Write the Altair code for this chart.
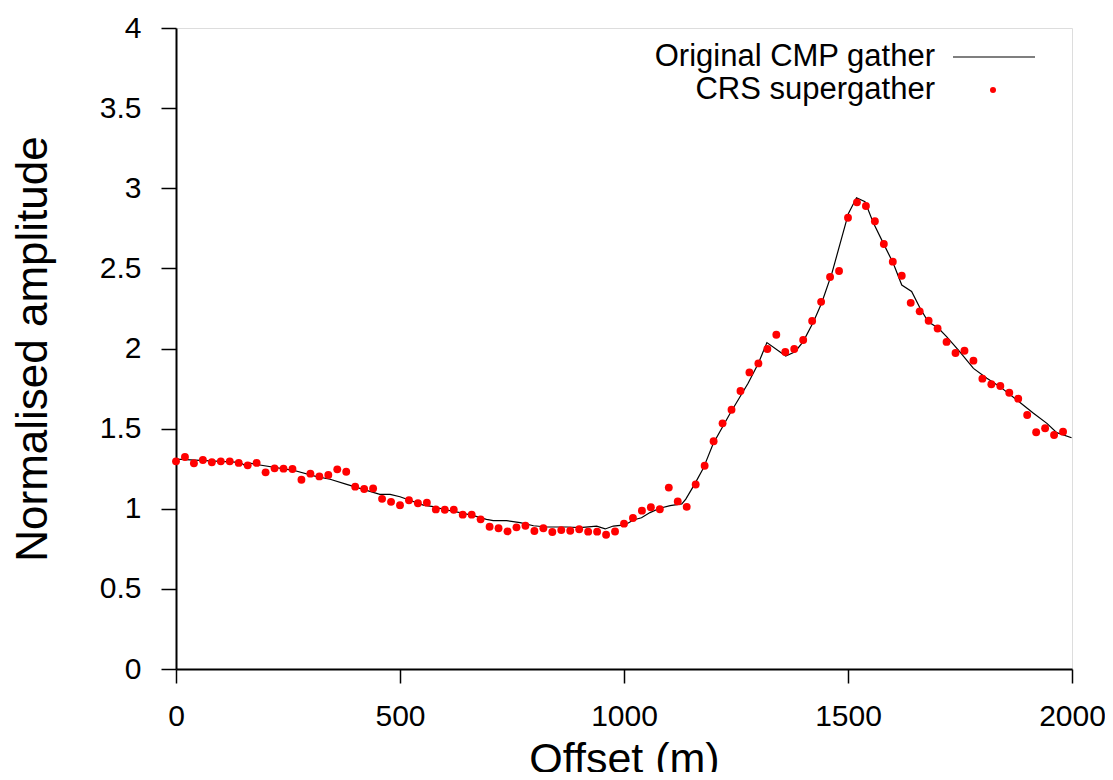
import altair as alt
import pandas as pd

# CRS supergather samples (every 20 m)
crs_offset = list(range(0, 2000, 20))
crs_amp = [1.296, 1.323, 1.284, 1.304, 1.290, 1.296, 1.296, 1.286, 1.271, 1.286,
           1.227, 1.252, 1.250, 1.248, 1.181, 1.219, 1.202, 1.211, 1.246, 1.231,
           1.138, 1.123, 1.127, 1.062, 1.043, 1.022, 1.053, 1.034, 1.038, 0.996,
           0.994, 0.994, 0.963, 0.963, 0.934, 0.888, 0.878, 0.859, 0.884, 0.894,
           0.861, 0.878, 0.855, 0.867, 0.863, 0.872, 0.857, 0.857, 0.838, 0.858,
           0.907, 0.942, 0.988, 1.009, 0.997, 1.132, 1.046, 1.012, 1.151, 1.268,
           1.421, 1.533, 1.618, 1.735, 1.851, 1.907, 1.997, 2.086, 1.978, 1.997,
           2.053, 2.172, 2.291, 2.446, 2.484, 2.816, 2.912, 2.889, 2.794, 2.652,
           2.542, 2.454, 2.285, 2.232, 2.173, 2.125, 2.041, 1.972, 1.986, 1.924,
           1.812, 1.777, 1.766, 1.724, 1.687, 1.585, 1.477, 1.502, 1.460, 1.481]

# Original CMP gather curve
cmp_offset = [0, 65, 143, 154, 165, 187, 262, 314, 344, 381, 455, 478, 500, 552, 574,
              604, 634, 664, 693, 708, 738, 768, 798, 827, 872, 902, 939, 958, 976,
              1002, 1021, 1039, 1058, 1080, 1103, 1129, 1138, 1158, 1177, 1199, 1237,
              1277, 1300, 1319, 1361, 1382, 1400, 1423, 1441, 1464, 1501, 1519, 1538,
              1557, 1579, 1601, 1620, 1642, 1661, 1679, 1702, 1720, 1746, 1780, 1810,
              1839, 1877, 1914, 1944, 1966, 1999]
cmp_amp = [1.31, 1.30, 1.29, 1.27, 1.284, 1.273, 1.24, 1.20, 1.184, 1.152, 1.09, 1.09,
           1.075, 1.023, 1.013, 0.992, 0.976, 0.957, 0.934, 0.926, 0.926, 0.913, 0.894,
           0.886, 0.886, 0.882, 0.892, 0.874, 0.892, 0.899, 0.930, 0.944, 0.976, 1.003,
           1.019, 1.030, 1.060, 1.155, 1.252, 1.406, 1.596, 1.783, 1.908, 2.037, 1.953,
           1.980, 2.043, 2.167, 2.282, 2.469, 2.843, 2.941, 2.916, 2.781, 2.656, 2.532,
           2.396, 2.356, 2.251, 2.167, 2.126, 2.074, 1.991, 1.876, 1.814, 1.762, 1.679,
           1.596, 1.533, 1.475, 1.443]

x_ticks = [0, 500, 1000, 1500, 2000]
y_ticks = [0, 0.5, 1, 1.5, 2, 2.5, 3, 3.5, 4]
legend_labels = ["Original CMP gather", "CRS supergather"]

crs_df = pd.DataFrame({"offset": crs_offset, "amp": crs_amp})
cmp_df = pd.DataFrame({"offset": cmp_offset, "amp": cmp_amp})

FONT = "Liberation Sans"

xscale = alt.Scale(domain=[0, 2000], nice=False, zero=False)
yscale = alt.Scale(domain=[0, 4], nice=False)

common = dict(grid=False, labelFont=FONT, titleFont=FONT, titleFontWeight="normal",
              domainColor="black", tickColor="black", labelColor="black",
              titleColor="black", domainWidth=2, tickWidth=1.5, labelFlush=False)

xaxis = alt.Axis(values=x_ticks, format="d", title="Offset (m)", tickSize=14,
                 labelPadding=18, labelFontSize=30, titleFontSize=43,
                 titlePadding=7, **common)
yaxis = alt.Axis(values=y_ticks, format="~g", title="Normalised amplitude", tickSize=15,
                 labelPadding=20, labelFontSize=30, titleFontSize=44,
                 titlePadding=44, **common)

line = alt.Chart(cmp_df).mark_line(color="black", strokeWidth=1.2).encode(
    x=alt.X("offset:Q", scale=xscale, axis=xaxis),
    y=alt.Y("amp:Q", scale=yscale, axis=yaxis),
)

points = alt.Chart(crs_df).mark_circle(color="#ff0000", opacity=1, size=62).encode(
    x=alt.X("offset:Q", scale=xscale),
    y=alt.Y("amp:Q", scale=yscale),
)

leg_df = pd.DataFrame({"label": legend_labels})

leg_text1 = alt.Chart(leg_df.iloc[[0]]).mark_text(
    align="right", baseline="middle", font=FONT, fontSize=31, color="black"
).encode(x=alt.value(759), y=alt.value(29), text="label:N")
leg_text2 = alt.Chart(leg_df.iloc[[1]]).mark_text(
    align="right", baseline="middle", font=FONT, fontSize=31, color="black"
).encode(x=alt.value(759), y=alt.value(62), text="label:N")
leg_rule = alt.Chart(leg_df.iloc[[0]]).mark_rule(color="black", strokeWidth=1.2).encode(
    x=alt.value(777), x2=alt.value(859), y=alt.value(29)
)
leg_dot = alt.Chart(leg_df.iloc[[1]]).mark_circle(color="#ff0000", opacity=1, size=36).encode(
    x=alt.value(817), y=alt.value(62)
)

chart = alt.layer(line, points, leg_text1, leg_text2, leg_rule, leg_dot).properties(
    width=896, height=641,
    autosize=alt.AutoSizeParams(type="none"),
    padding={"left": 168, "top": 20, "right": 33, "bottom": 103},
).configure_view(stroke=None).configure(background="white")

chart.save("out.html", embed_options={"renderer": "svg", "actions": False})
